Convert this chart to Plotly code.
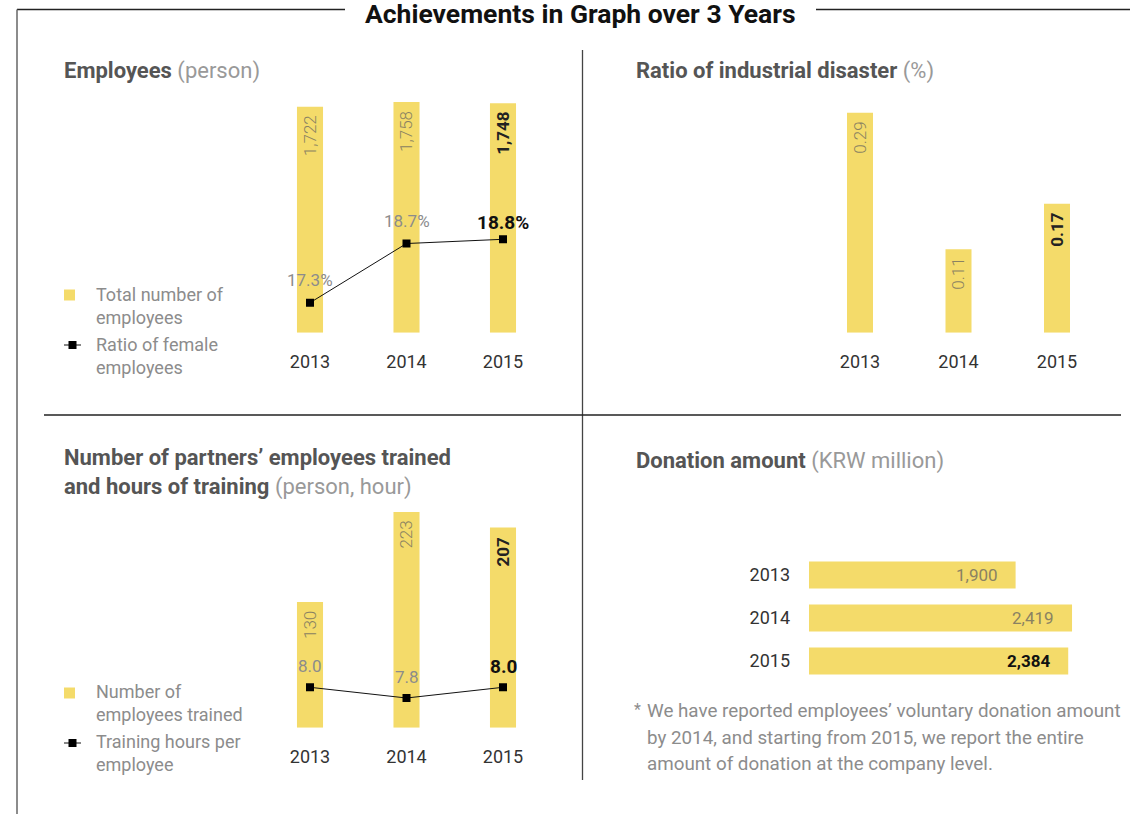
import plotly.graph_objects as go

# data
years = [2013, 2014, 2015]
employees = [1722, 1758, 1748]
female_ratio = [17.3, 18.7, 18.8]
disaster_ratio = [0.29, 0.11, 0.17]
trained = [130, 223, 207]
training_hours = [8.0, 7.8, 8.0]
donation = [1900, 2419, 2384]

W, H = 1130, 814
YELLOW = "#F4DB6A"
FONT = "Roboto"
LABEL_GRAY = "#8a8262"
TEXT_GRAY = "#8c8c8c"


def fx(px):
    return px / W


def fy(py):
    return 1 - py / H


def dom_y(top, bottom):
    return [fy(bottom), fy(top)]


fig = go.Figure()

# panel 1 - employees
fig.add_trace(go.Bar(x=years, y=employees, width=0.27, marker_color=YELLOW,
                     xaxis="x", yaxis="y", hoverinfo="skip", showlegend=False))
fig.add_trace(go.Scatter(x=years, y=female_ratio, xaxis="x", yaxis="y2", mode="lines+markers",
                         line=dict(color="#111", width=1),
                         marker=dict(symbol="square", size=8, color="#000"),
                         hoverinfo="skip", showlegend=False))

# panel 2 - industrial disaster
fig.add_trace(go.Bar(x=years, y=disaster_ratio, width=0.264, marker_color=YELLOW,
                     xaxis="x2", yaxis="y3", hoverinfo="skip", showlegend=False))

# panel 3 - partners training
fig.add_trace(go.Bar(x=years, y=trained, width=0.27, marker_color=YELLOW,
                     xaxis="x3", yaxis="y4", hoverinfo="skip", showlegend=False))
fig.add_trace(go.Scatter(x=years, y=training_hours, xaxis="x3", yaxis="y5", mode="lines+markers",
                         line=dict(color="#111", width=1),
                         marker=dict(symbol="square", size=8, color="#000"),
                         hoverinfo="skip", showlegend=False))

# panel 4 - donation
fig.add_trace(go.Bar(x=donation, y=years, orientation="h", width=0.628, marker_color=YELLOW,
                     xaxis="x4", yaxis="y6", hoverinfo="skip", showlegend=False))

hidden = dict(visible=False, fixedrange=True, automargin=False)
yr_range = [years[0] - 0.5, years[-1] + 0.5]
xyear = dict(range=yr_range, tickmode="array", tickvals=years, ticktext=[str(y) for y in years],
             showgrid=False, zeroline=False, showline=False, ticks="", automargin=False,
             tickfont=dict(family=FONT, size=18, color="#333"), ticklabelstandoff=16, fixedrange=True)

annots = []


# vertical bar value labels
def bar_labels(xref, yref, values, fmt):
    for i, (yr, v) in enumerate(zip(years, values)):
        last = i == len(values) - 1
        txt = fmt.format(v)
        annots.append(dict(xref=xref, yref=yref, x=yr, y=v, text=f"<b>{txt}</b>" if last else txt,
                           textangle=-90, showarrow=False, yanchor="top", yshift=-7,
                           font=dict(family=FONT, size=17, color="#222" if last else LABEL_GRAY,
                                     weight=700 if last else 300)))


def line_labels(xref, yref, values, fmt, shift, shift_last):
    for i, (yr, v) in enumerate(zip(years, values)):
        last = i == len(values) - 1
        txt = fmt.format(v)
        annots.append(dict(xref=xref, yref=yref, x=yr, y=v, text=f"<b>{txt}</b>" if last else txt,
                           showarrow=False, yanchor="middle", yshift=shift_last if last else shift,
                           font=dict(family=FONT, size=19 if last else 17,
                                     color="#111" if last else TEXT_GRAY)))


bar_labels("x", "y", employees, "{:,}")
bar_labels("x2", "y3", disaster_ratio, "{:.2f}")
bar_labels("x3", "y4", trained, "{:,}")
line_labels("x", "y2", female_ratio, "{:.1f}%", 23, 17)
line_labels("x3", "y5", training_hours, "{:.1f}", 21, 21)

for i, (yr, v) in enumerate(zip(years, donation)):
    last = i == len(years) - 1
    txt = f"{v:,}"
    annots.append(dict(xref="x4", yref="y6", x=v, y=yr, text=f"<b>{txt}</b>" if last else txt,
                       showarrow=False, xanchor="right", xshift=-16,
                       font=dict(family=FONT, size=17, color="#111" if last else LABEL_GRAY)))


def paper_text(x, y, text, size, color, xanchor="left", weight=None):
    f = dict(family=FONT, size=size, color=color)
    if weight:
        f["weight"] = weight
    annots.append(dict(xref="paper", yref="paper", x=fx(x), y=fy(y), text=text, showarrow=False,
                       xanchor=xanchor, yanchor="middle", align="left", font=f))


# titles
paper_text(580, 13, "<b>Achievements in Graph over 3 Years</b>", 26.5, "#111", xanchor="center")
paper_text(62, 71, "<b>Employees</b> <span style='color:#999'>(person)</span>", 22, "#555")
paper_text(634, 71, "<b>Ratio of industrial disaster</b> <span style='color:#999'>(%)</span>", 22, "#555")
paper_text(62, 473, "<b>Number of partners’ employees trained</b><br><b>and hours of training</b> "
                    "<span style='color:#999'>(person, hour)</span>", 22, "#555")
paper_text(634, 461, "<b>Donation amount</b> <span style='color:#999'>(KRW million)</span>", 22, "#555")

# legends
paper_text(94, 306, "Total number of<br>employees", 18, TEXT_GRAY)
paper_text(94, 356, "Ratio of female<br>employees", 18, TEXT_GRAY)
paper_text(94, 703, "Number of<br>employees trained", 18, TEXT_GRAY)
paper_text(94, 753, "Training hours per<br>employee", 18, TEXT_GRAY)

# footnote
paper_text(632, 709, "*", 16, TEXT_GRAY)
foot = ["We have reported employees’ voluntary donation amount",
        "by 2014, and starting from 2015, we report the entire",
        "amount of donation at the company level."]
for i, line in enumerate(foot):
    paper_text(645, 711 + 26.5 * i, line, 18.8, TEXT_GRAY)

shapes = []


def pline(x0, y0, x1, y1, color="#222", width=1.3):
    shapes.append(dict(type="line", xref="paper", yref="paper", x0=fx(x0), y0=fy(y0), x1=fx(x1), y1=fy(y1),
                       line=dict(color=color, width=width)))


def prect(x0, y0, x1, y1, color):
    shapes.append(dict(type="rect", xref="paper", yref="paper", x0=fx(x0), y0=fy(y0), x1=fx(x1), y1=fy(y1),
                       fillcolor=color, line=dict(width=0)))


# frame and dividers
pline(17, 9.5, 345, 9.5)
pline(816, 9.5, 1130, 9.5)
pline(17, 9.5, 17, 814, color="#666", width=1.5)
pline(582.5, 50, 582.5, 780, color="#444", width=1.3)
pline(44, 415, 1121, 415)

# legend glyphs
for cy in (295, 693):
    prect(64, cy - 5.5, 75, cy + 5.5, YELLOW)
for cy in (345, 743):
    pline(64, cy, 81, cy, color="#111", width=1)
    prect(68.5, cy - 4, 76.5, cy + 4, "#000")

fig.update_layout(
    template="none",
    width=W, height=H,
    margin=dict(l=0, r=0, t=0, b=0, autoexpand=False),
    paper_bgcolor="white", plot_bgcolor="rgba(0,0,0,0)",
    font=dict(family=FONT),
    xaxis=dict(domain=[fx(261.75), fx(551.25)], anchor="y", **xyear),
    yaxis=dict(domain=dom_y(90, 332.7), range=[0, 1849.4], **hidden),
    yaxis2=dict(domain=dom_y(90, 332.7), range=[16.59, 22.332], overlaying="y", anchor="x", **hidden),
    xaxis2=dict(domain=[fx(810.75), fx(1106.25)], anchor="y3", **xyear),
    yaxis3=dict(domain=dom_y(90, 332.7), range=[0, 0.3199], anchor="x2", **hidden),
    xaxis3=dict(domain=[fx(261.75), fx(551.25)], anchor="y4", **xyear),
    yaxis4=dict(domain=dom_y(500, 727.7), range=[0, 235.5], anchor="x3", **hidden),
    yaxis5=dict(domain=dom_y(500, 727.7), range=[7.245, 11.501], overlaying="y4", anchor="x3", **hidden),
    xaxis4=dict(domain=[fx(809), fx(1109)], range=[0, 2759], anchor="y6", **hidden),
    yaxis6=dict(domain=dom_y(553.5, 682.5), range=yr_range[::-1], anchor="x4",
                tickmode="array", tickvals=years, ticktext=[str(y) for y in years],
                showgrid=False, zeroline=False, showline=False, ticks="", ticklabelstandoff=18,
                automargin=False, tickfont=dict(family=FONT, size=18, color="#333"), fixedrange=True),
    annotations=annots,
    shapes=shapes,
)

# page has a default 8px body margin; remove it so the figure sits at the window origin
fig.write_html("out.html", config={"displayModeBar": False},
               post_script="document.body.style.margin='0px';")
